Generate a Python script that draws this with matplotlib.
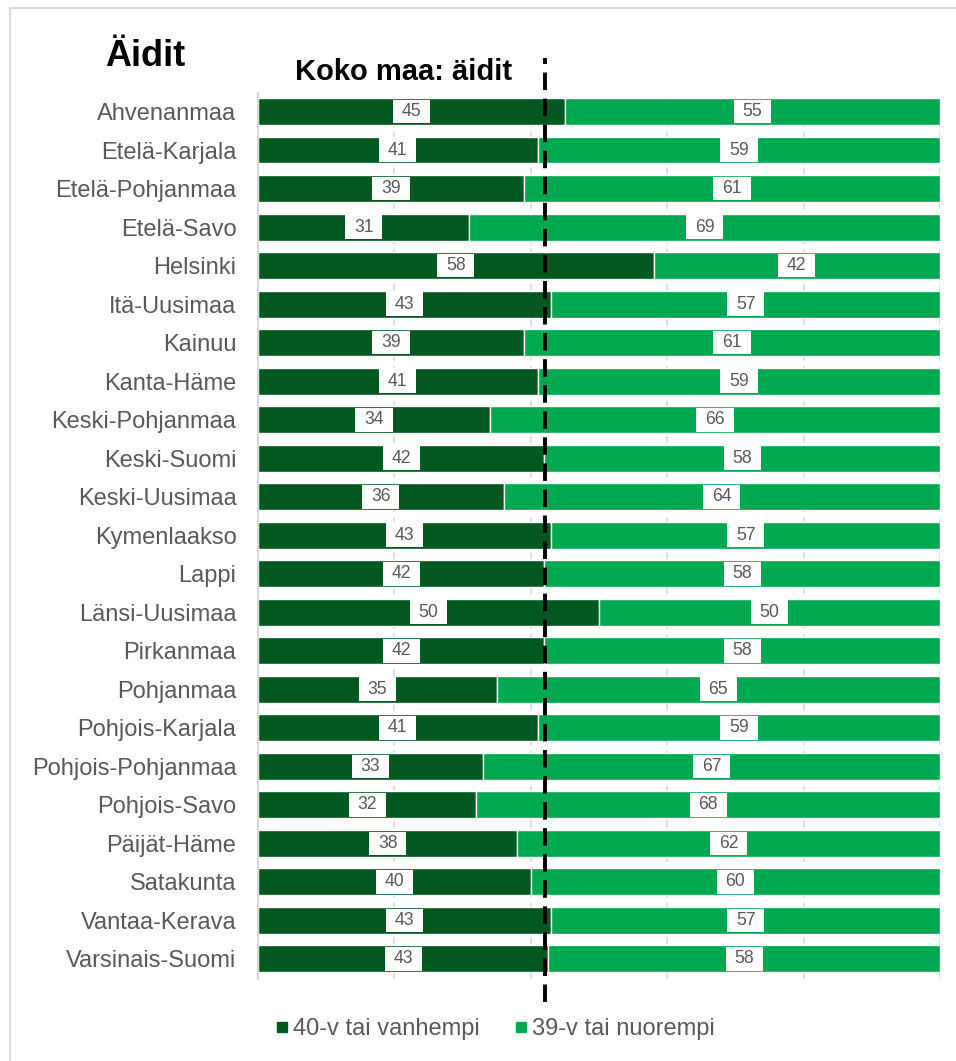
import matplotlib
matplotlib.use("Agg")
import matplotlib.pyplot as plt
from matplotlib.patches import Rectangle
from matplotlib.lines import Line2D

plt.rcParams['font.family'] = ['Liberation Sans', 'DejaVu Sans']

regions = ["Ahvenanmaa", "Etelä-Karjala", "Etelä-Pohjanmaa", "Etelä-Savo", "Helsinki",
           "Itä-Uusimaa", "Kainuu", "Kanta-Häme", "Keski-Pohjanmaa", "Keski-Suomi",
           "Keski-Uusimaa", "Kymenlaakso", "Lappi", "Länsi-Uusimaa", "Pirkanmaa",
           "Pohjanmaa", "Pohjois-Karjala", "Pohjois-Pohjanmaa", "Pohjois-Savo",
           "Päijät-Häme", "Satakunta", "Vantaa-Kerava", "Varsinais-Suomi"]
older = [45, 41, 39, 31, 58, 43, 39, 41, 34, 42, 36, 43, 42, 50, 42, 35, 41, 33, 32, 38, 40, 43, 43]
younger = [55, 59, 61, 69, 42, 57, 61, 59, 66, 58, 64, 57, 58, 50, 58, 65, 59, 67, 68, 62, 60, 57, 58]
national_avg = 42.1
series_names = ["40-v tai vanhempi", "39-v tai nuorempi"]

DARK = "#02581f"
LIGHT = "#00a950"
GRAY = "#595959"

W, H = 956, 1061
fig = plt.figure(figsize=(W / 100, H / 100), dpi=100)
ax = fig.add_axes([258 / W, 1 - 979 / H, (940 - 258) / W, (979 - 93) / H])

y = list(range(len(regions)))
tot = [o + yg for o, yg in zip(older, younger)]
p_old = [o / t * 100 for o, t in zip(older, tot)]
p_young = [yg / t * 100 for yg, t in zip(younger, tot)]

ax.barh(y, p_old, height=0.7, color=DARK, edgecolor="white", linewidth=1, zorder=2)
ax.barh(y, p_young, left=p_old, height=0.7, color=LIGHT, edgecolor="white", linewidth=1, zorder=2)

box = dict(boxstyle="square,pad=0.5", facecolor="white", edgecolor="none",
           mutation_aspect=0.38)
for i in y:
    ax.text(p_old[i] / 2, i, str(older[i]), ha="center", va="center", fontsize=12.7,
            color=GRAY, bbox=box, zorder=4)
    ax.text(p_old[i] + p_young[i] / 2, i, str(younger[i]), ha="center", va="center",
            fontsize=12.7, color=GRAY, bbox=box, zorder=4)

ax.set_xlim(0, 100)
ax.set_ylim(len(regions) - 0.48, -0.48)
ax.set_yticks(y)
ax.set_yticklabels(regions, fontsize=17, color=GRAY)
ax.tick_params(axis="y", length=0, pad=15.5)
ax.set_xticks([0, 20, 40, 60, 80, 100])
ax.tick_params(axis="x", length=0, labelbottom=False)
ax.grid(axis="x", color="#d9d9d9", linewidth=1.2, linestyle=(0, (4, 3)), zorder=0)
for s in ["top", "right", "bottom"]:
    ax.spines[s].set_visible(False)
ax.spines["left"].set_color("#d9d9d9")
ax.spines["left"].set_linewidth(1.5)

ax.axvline(national_avg, ymin=-0.026, ymax=1.04, color="black", linewidth=2.8,
           linestyle=(0, (4.5, 2.2)), clip_on=False, zorder=5)

fig.text(105 / W, 1 - 56 / H, "Äidit", fontsize=26, fontweight="bold", ha="left", va="center")
fig.text(512 / W, 1 - 72 / H, "Koko maa: äidit", fontsize=21, fontweight="bold",
         ha="right", va="center")

handles = [Line2D([], [], marker="s", linestyle="none", markersize=7.5, color=DARK),
           Line2D([], [], marker="s", linestyle="none", markersize=7.5, color=LIGHT)]
fig.legend(handles, series_names, loc="center", bbox_to_anchor=(493 / W, 1 - 1029 / H),
           ncol=2, frameon=False, fontsize=17, labelcolor=GRAY, handletextpad=0.0,
           columnspacing=1.3, handlelength=0.9)

fig.add_artist(Rectangle((10 / W, -0.1), 1.2, 1 - 8 / H + 0.1, transform=fig.transFigure,
                         fill=False, edgecolor="#d9d9d9", linewidth=1.5))

fig.savefig("out.png", dpi=100)
